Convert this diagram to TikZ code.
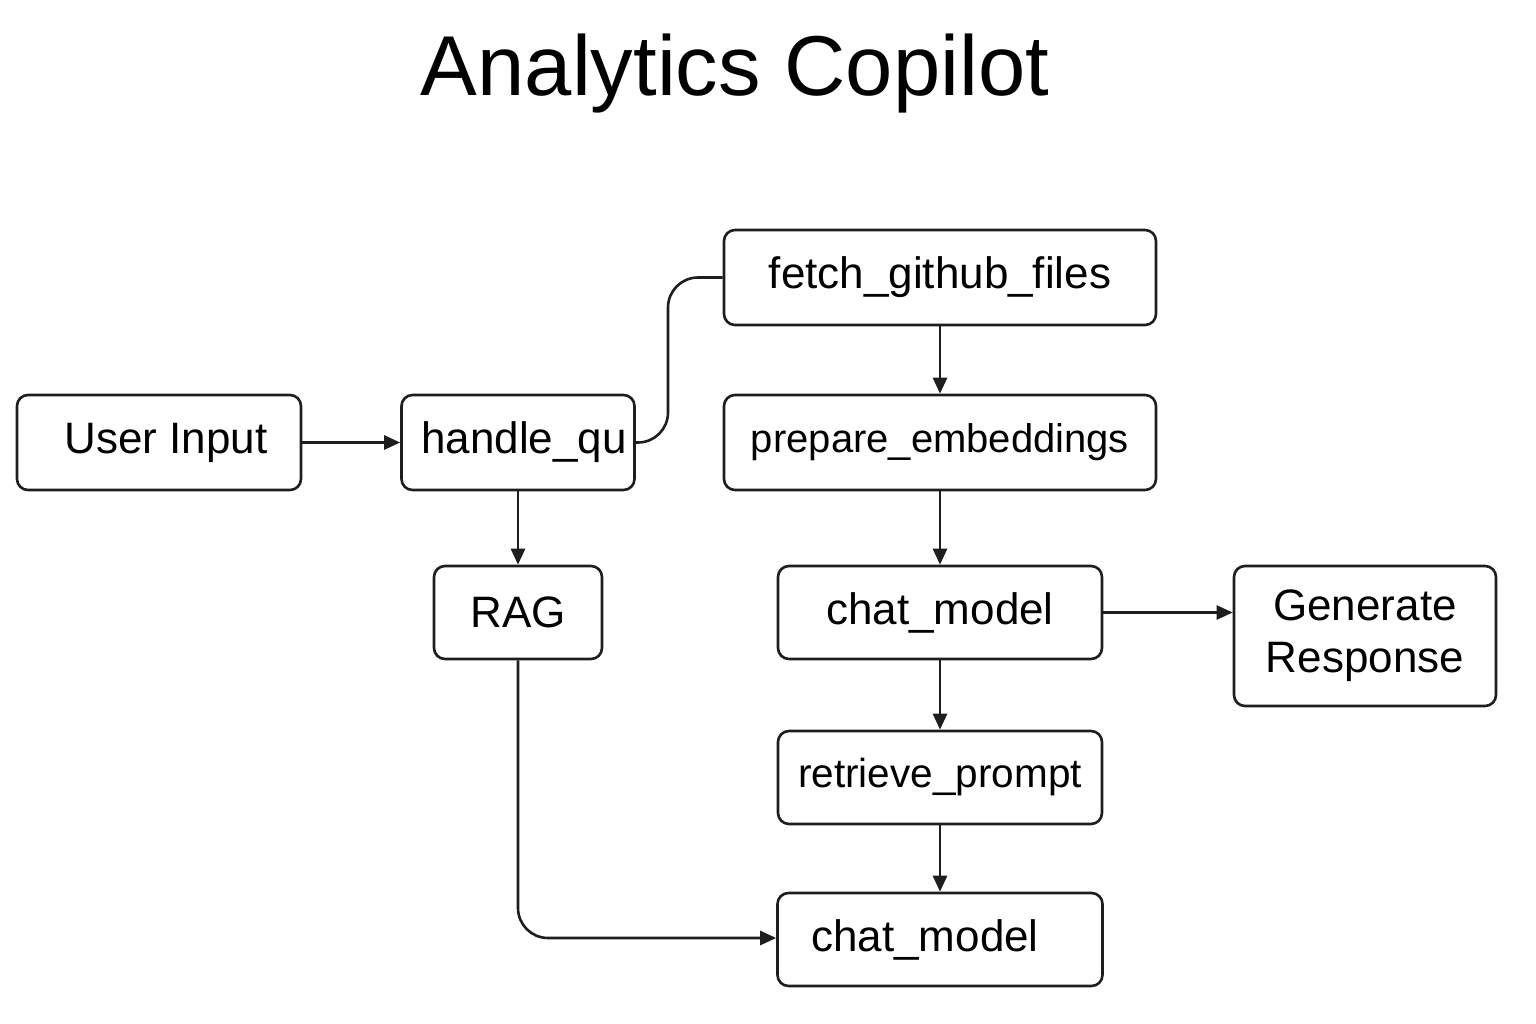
\documentclass[tikz,border=0pt]{standalone}
\usepackage{fontspec}
\setmainfont{Liberation Sans}
\usetikzlibrary{arrows.meta}
\definecolor{ink}{HTML}{1E1E1E}
\begin{document}
\begin{tikzpicture}[x=1pt,y=-1pt,
  box/.style={draw=ink, line width=2.6pt, rounded corners=11pt, fill=white, inner sep=0pt, font=\fontsize{44}{52}\selectfont, text=black, align=center},
  conn/.style={draw=ink, line width=2.6pt},
  arr/.style={conn, -{Triangle[length=16pt,width=14pt]}}]
\useasboundingbox[fill=white] (0,0) rectangle (1536,1024);
\node[font=\fontsize{85}{90}\selectfont, text=black] (title) at (735,74) {Analytics Copilot};
\node[box, minimum width=284pt, minimum height=95pt] (user) at (159,442.5) {\hspace*{14pt}User Input};
\node[box, minimum width=233pt, minimum height=95pt] (hq) at (518,442.5) {\hspace*{12pt}handle\_qu};
\node[box, minimum width=432pt, minimum height=95pt] (fetch) at (940,277.5) {fetch\_github\_files};
\node[box, minimum width=432pt, minimum height=95pt, font=\fontsize{40}{48}\selectfont] (prep) at (940,442.5) {prepare\_embeddings};
\node[box, minimum width=168pt, minimum height=93pt] (rag) at (518,612.5) {RAG};
\node[box, minimum width=324pt, minimum height=93pt] (chat1) at (940,612.5) {chat\_model};
\node[box, minimum width=262pt, minimum height=140pt] (gen) at (1365,636) {Generate\\Response};
\node[box, minimum width=324pt, minimum height=93pt, font=\fontsize{40.5}{48}\selectfont] (ret) at (940,777.5) {retrieve\_prompt};
\node[box, minimum width=325pt, minimum height=93pt] (chat2) at (940,939.5) {chat\_model\hspace*{30pt}};
\draw[arr] (user.east) -- (hq.west);
\draw[conn, rounded corners=30pt] (hq.east) -- (668,442.5) -- (668,277.5) -- (fetch.west);
\draw[arr] (fetch.south) -- (prep.north);
\draw[arr] (prep.south) -- (chat1.north);
\draw[arr] (chat1.east) -- (gen.west |- chat1.east);
\draw[arr] (chat1.south) -- (ret.north);
\draw[arr] (ret.south) -- (chat2.north);
\draw[arr] (hq.south) -- (rag.north);
\draw[arr, rounded corners=30pt] (rag.south) -- (518,938) -- (chat2.west |- 0,938);
\end{tikzpicture}
\end{document}
